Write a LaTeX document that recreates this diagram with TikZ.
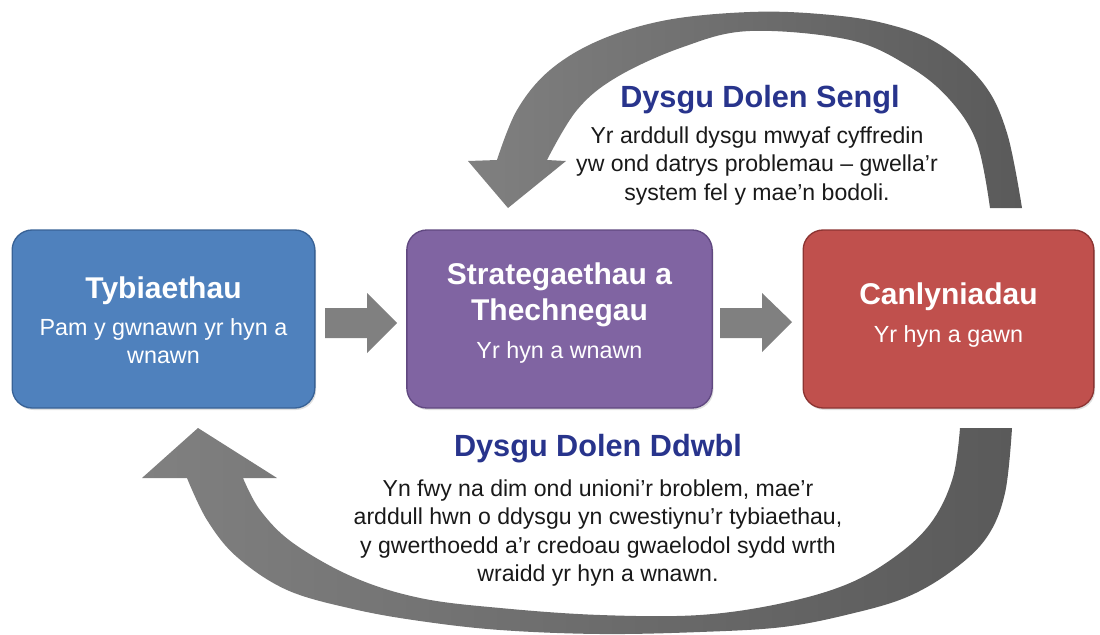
\documentclass[tikz,border=0pt]{standalone}
\usepackage{fontspec}
\setmainfont{Liberation Sans}
\usetikzlibrary{shadows,calc}
\definecolor{boxblue}{RGB}{79,129,189}
\definecolor{boxblueB}{RGB}{56,98,150}
\definecolor{boxpurple}{RGB}{128,100,162}
\definecolor{boxpurpleB}{RGB}{96,72,128}
\definecolor{boxred}{RGB}{192,80,77}
\definecolor{boxredB}{RGB}{140,52,50}
\definecolor{navy}{RGB}{40,52,140}
\definecolor{arrgray}{RGB}{128,128,128}
\definecolor{arrdark}{RGB}{90,90,90}
\definecolor{txt}{RGB}{25,25,25}
\tikzset{
  stagebox/.style={draw, line width=1pt, rounded corners=15pt, minimum height=133.5pt,
    drop shadow={opacity=0.25, shadow xshift=1pt, shadow yshift=-1.5pt}},
  boxtitle/.style={text=white, font=\fontsize{22.5}{27}\selectfont\bfseries, align=center, inner sep=0pt},
  boxsub/.style={text=white, font=\fontsize{17.5}{21}\selectfont, align=center, inner sep=0pt},
  looptitle/.style={text=navy, font=\fontsize{23}{27}\selectfont\bfseries, align=center, inner sep=0pt},
  loopbody/.style={text=txt, font=\fontsize{17.3}{21.4}\selectfont, align=center, inner sep=0pt},
  flatarrow/.style={fill=arrgray},
}
\begin{document}
\begin{tikzpicture}[x=0.75pt,y=-0.75pt]
\useasboundingbox (0,0) rectangle (1100,635);

% top curved arrow (single loop)
\shade[left color=arrgray, right color=arrdark]
  plot[smooth, tension=0.6] coordinates {(1022,208) (1007,133) (983,83) (937,43) (883,23) (820,14) (750,12) (667,20) (600,40) (550,70) (517,110) (497,160)}
  -- (468,161) -- (508,208) -- (566,161) -- (547,160)
  -- plot[smooth, tension=0.6] coordinates {(547,160) (577,110) (617,77) (683,47) (750,31) (850,40) (910,67) (950,100) (977,143) (990,208)}
  -- cycle;

% bottom curved arrow (double loop)
\shade[left color=arrgray, right color=arrdark]
  plot[smooth, tension=0.6] coordinates {(1012,428) (1005,493) (987,537) (953,570) (907,597) (850,614) (783,627) (700,632) (600,634) (500,630) (420,621) (353,609) (287,590) (237,557) (207,520) (187,478)}
  -- (142,478) -- (198,428) -- (277,478) -- (243,478)
  -- plot[smooth, tension=0.6] coordinates {(243,478) (260,510) (293,543) (353,577) (420,598) (500,608) (600,615) (700,615) (783,603) (850,583) (900,553) (933,520) (953,477) (960,428)}
  -- cycle;

% boxes
\node[stagebox, fill=boxblue, draw=boxblueB, minimum width=227pt] (ass) at (163.5,319) {};
\node[stagebox, fill=boxpurple, draw=boxpurpleB, minimum width=229pt] (str) at (559.5,319) {};
\node[stagebox, fill=boxred, draw=boxredB, minimum width=218pt] (res) at (948.5,319) {};

% straight arrows
\fill[flatarrow] (325,308) -- (367,308) -- (367,293) -- (397,323) -- (367,353) -- (367,338) -- (325,338) -- cycle;
\fill[flatarrow] (720,308) -- (762,308) -- (762,293) -- (792,322) -- (762,352) -- (762,338) -- (720,338) -- cycle;

% box texts
\node[boxtitle] (assT) at (163.5,291) {Tybiaethau};
\node[boxsub] (assS) at (163.5,341) {Pam y gwnawn yr hyn a\\wnawn};
\node[boxtitle] (strT) at (559.5,295) {Strategaethau a\\Thechnegau};
\node[boxsub] (strS) at (559.5,352) {Yr hyn a wnawn};
\node[boxtitle] (resT) at (948.5,297) {Canlyniadau};
\node[boxsub] (resS) at (948.5,336) {Yr hyn a gawn};

% loop texts
\node[looptitle] (slT) at (760,100) {Dysgu Dolen Sengl};
\node[loopbody] (slB) at (757,166) {Yr arddull dysgu mwyaf cyffredin\\yw ond datrys problemau – gwella’r\\system fel y mae’n bodoli.};
\node[looptitle] (dlT) at (598,449) {Dysgu Dolen Ddwbl};
\node[loopbody] (dlB) at (598,533) {Yn fwy na dim ond unioni’r broblem, mae’r\\arddull hwn o ddysgu yn cwestiynu’r tybiaethau,\\y gwerthoedd a’r credoau gwaelodol sydd wrth\\wraidd yr hyn a wnawn.};
\end{tikzpicture}
\end{document}
